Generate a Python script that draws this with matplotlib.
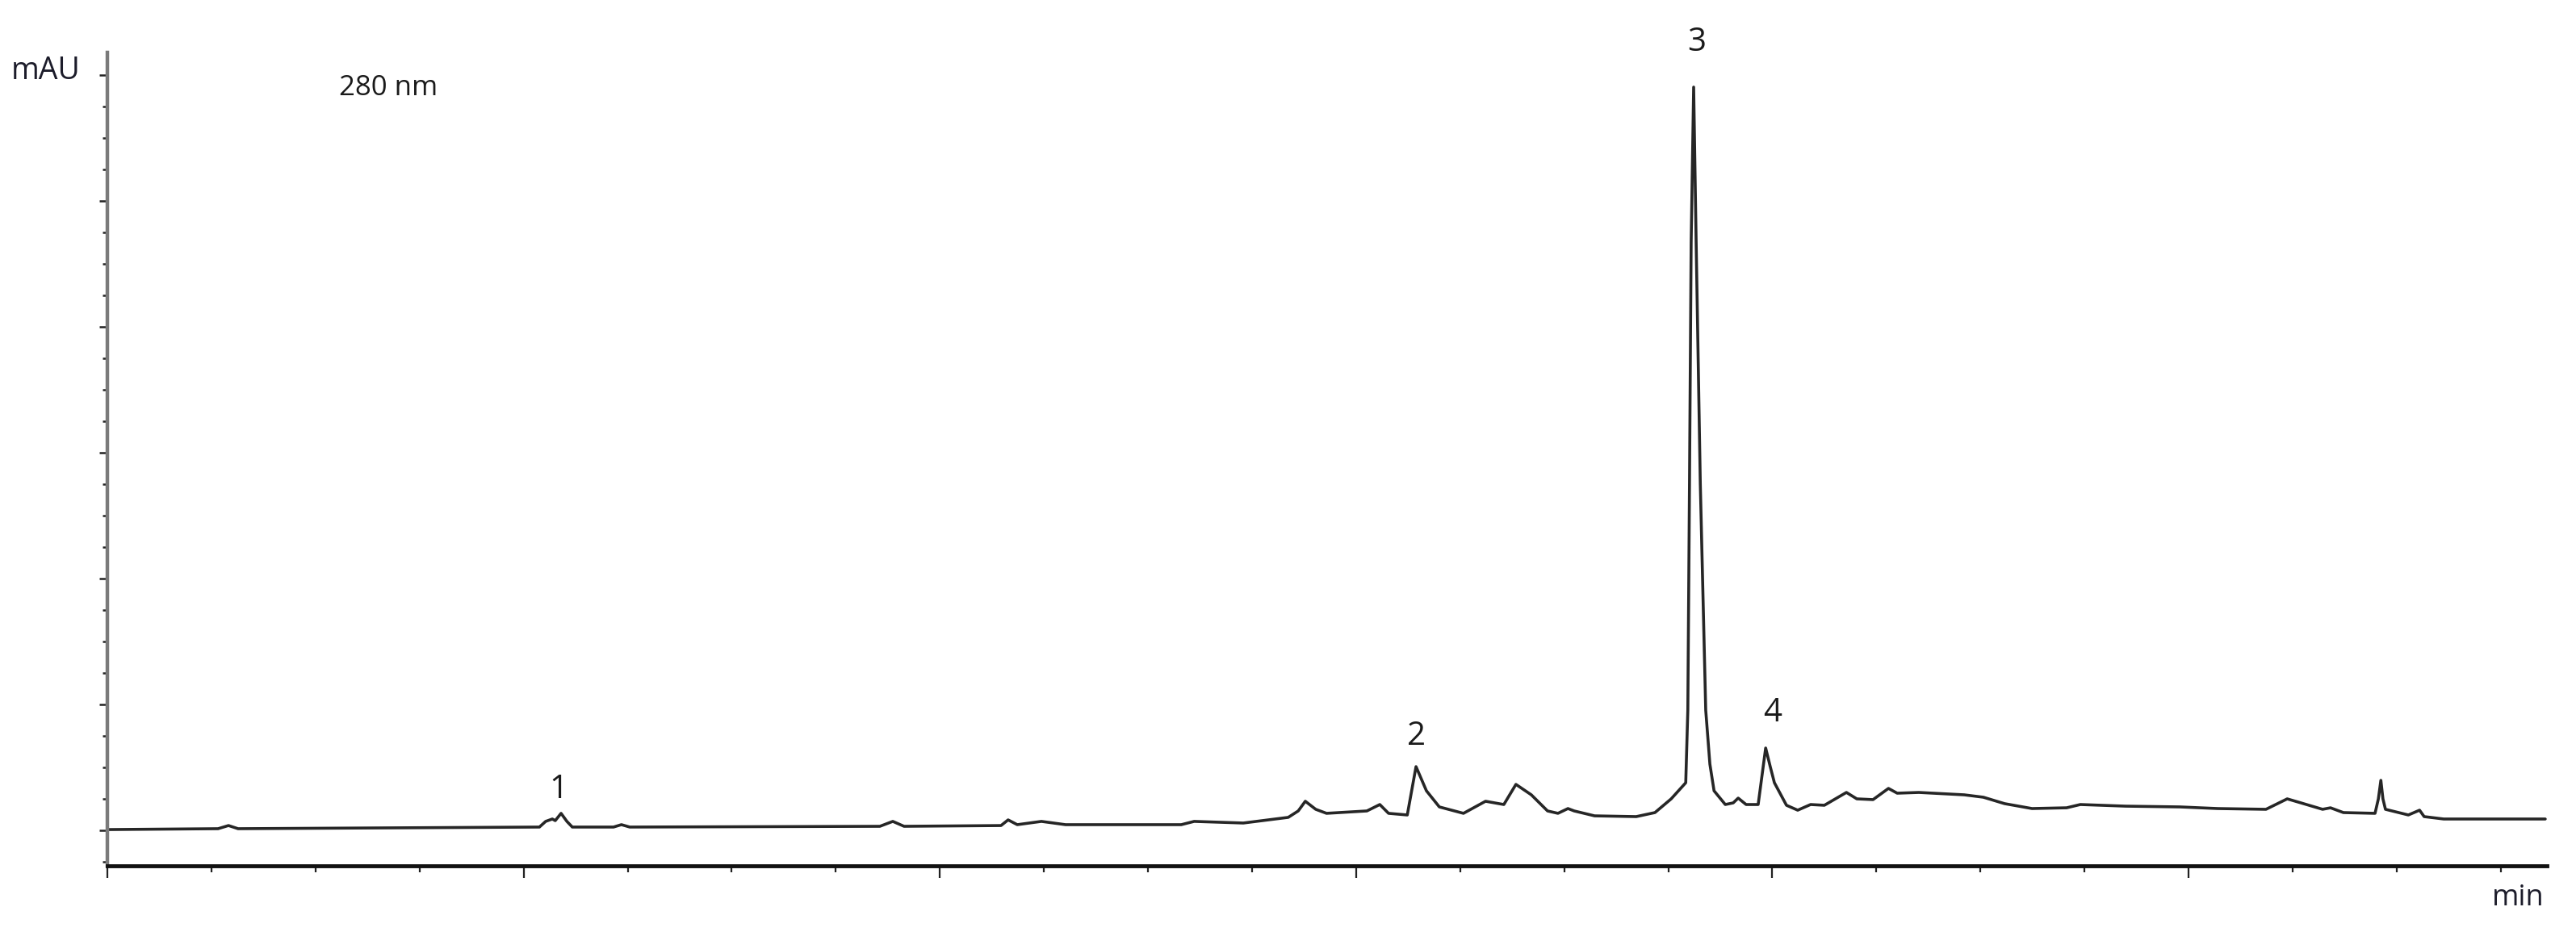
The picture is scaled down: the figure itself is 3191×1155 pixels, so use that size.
import numpy as np
import matplotlib.pyplot as plt
from matplotlib.ticker import MultipleLocator, NullFormatter

# chromatogram trace (time in min, absorbance in mAU)
time_min = [0.00, 2.66, 2.91, 3.14, 10.38, 10.53, 10.69, 10.76, 10.90, 11.04,
            11.17, 12.16, 12.35, 12.55, 18.56, 18.87, 19.14, 21.47, 21.64, 21.86,
            22.44, 23.02, 25.80, 26.11, 27.29, 28.37, 28.61, 28.78, 29.03, 29.29,
            30.26, 30.57, 30.78, 31.23, 31.44, 31.69, 32.00, 32.58, 33.11, 33.55,
            33.84, 34.21, 34.60, 34.85, 35.09, 35.24, 35.73, 36.73, 37.18, 37.57,
            37.92, 37.97, 38.01, 38.05, 38.11, 38.17, 38.27, 38.40, 38.50, 38.60,
            38.87, 39.06, 39.18, 39.37, 39.66, 39.84, 39.95, 40.05, 40.34, 40.61,
            40.92, 41.25, 41.78, 42.03, 42.42, 42.79, 43.00, 43.52, 44.61, 45.07,
            45.58, 46.24, 47.07, 47.40, 48.49, 49.79, 50.70, 51.86, 52.37, 52.70,
            53.22, 53.41, 53.72, 54.48, 54.56, 54.62, 54.67, 54.73, 55.28, 55.55,
            55.66, 56.13, 58.57]
absorb_mau = [0.6, 1.3, 3.8, 1.3, 2.6, 7.1, 9.0, 7.7, 13.5, 7.1,
              2.6, 2.6, 4.5, 2.6, 3.2, 7.1, 3.2, 3.8, 8.3, 4.5,
              7.1, 4.5, 4.5, 7.1, 5.8, 10.3, 15.4, 23.1, 16.7, 13.5,
              15.4, 20.5, 13.5, 12.2, 50.6, 31.4, 18.6, 13.5, 23.1, 20.5,
              36.5, 28.2, 15.4, 13.5, 17.3, 15.4, 11.5, 10.9, 14.1, 25.0,
              37.8, 95.5, 275.0, 467.0, 590.4, 467.0, 275.0, 95.5, 52.6, 31.4,
              20.5, 21.8, 25.6, 20.5, 20.5, 65.4, 50.6, 37.8, 19.9, 16.0,
              20.5, 19.9, 30.1, 25.0, 24.4, 33.3, 29.5, 30.1, 28.2, 26.3,
              21.2, 17.3, 17.9, 20.5, 19.2, 18.6, 17.3, 16.7, 25.0, 21.8,
              16.7, 17.9, 14.1, 13.5, 25.0, 39.7, 25.0, 16.7, 12.2, 16.0,
              10.9, 9.0, 9.0]

# peak numbers and where they sit
peak_labels = ['1', '2', '3', '4']
peak_label_t = [10.84, 31.44, 38.19, 40.01]
peak_label_y = [32.5, 74.2, 626.0, 92.8]

wavelength = '280 nm'

plt.rcParams['font.family'] = ['Open Sans', 'DejaVu Sans']

fig = plt.figure(figsize=(31.91, 11.55), dpi=100)
ax = fig.add_axes([0.04168, 0.0710, 0.98872 - 0.04168, 0.9437 - 0.0710])

ax.plot(time_min, absorb_mau, color='#262626', linewidth=2.6,
        solid_joinstyle='round', solid_capstyle='round')

ax.set_xlim(0, 58.61)
ax.set_ylim(-28.2, 617.9)

# spines: grey y axis, black x axis, nothing on the top/right
ax.spines['top'].set_visible(False)
ax.spines['right'].set_visible(False)
ax.spines['left'].set_color('#7a7a7a')
ax.spines['left'].set_linewidth(3.2)
ax.spines['bottom'].set_color('#111111')
ax.spines['bottom'].set_linewidth(3.5)

# ticks without any numbers
ax.xaxis.set_major_locator(MultipleLocator(10))
ax.xaxis.set_minor_locator(MultipleLocator(2.5))
ax.yaxis.set_major_locator(MultipleLocator(100))
ax.yaxis.set_minor_locator(MultipleLocator(25))
for axis in (ax.xaxis, ax.yaxis):
    axis.set_major_formatter(NullFormatter())
    axis.set_minor_formatter(NullFormatter())
ax.tick_params(axis='x', which='major', direction='out', length=11, width=1.6, color='#222222')
ax.tick_params(axis='x', which='minor', direction='out', length=6, width=1.6, color='#222222')
ax.tick_params(axis='y', which='major', direction='out', length=7.5, width=1.8, color='#222222')
ax.tick_params(axis='y', which='minor', direction='out', length=4, width=1.8, color='#222222')

# peak numbers
for lab, t, y in zip(peak_labels, peak_label_t, peak_label_y):
    ax.text(t, y, lab, fontsize=29, ha='center', va='center', color='#1a1a1a', clip_on=False)

fig.text(0.0179, 1 - 88 / 1155, 'mAU', fontsize=27, ha='center', va='center', color='#1c1c2a')
fig.text(481 / 3191, 1 - 109 / 1155, wavelength, fontsize=25, ha='center', va='center', color='#1a1a1a')
fig.text(0.9774, 0.0364, 'min', fontsize=26, ha='center', va='center', color='#1c1c2a')

plt.savefig('out.png', dpi=100)
